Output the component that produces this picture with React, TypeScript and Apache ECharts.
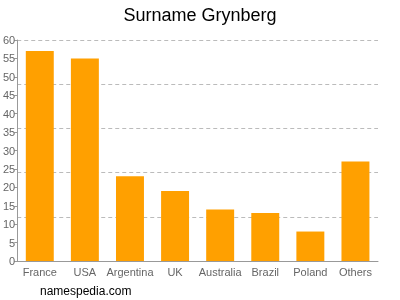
import React, { useEffect, useRef } from "react";
import * as echarts from "echarts";

const categories = ["France", "USA", "Argentina", "UK", "Australia", "Brazil", "Poland", "Others"];
const counts = [57, 55, 23, 19, 14, 13, 8, 27];
const titleText = "Surname Grynberg";
const footerText = "namespedia.com";

export default function App() {
  const ref = useRef<HTMLDivElement>(null);
  useEffect(() => {
    if (!ref.current) return;
    const chart = echarts.init(ref.current, undefined, { renderer: "svg" });
    chart.setOption({
      animation: false,
      title: {
        text: titleText,
        left: "center",
        top: 1,
        textStyle: { fontFamily: "Liberation Sans, Arial, sans-serif", fontSize: 18, fontWeight: "normal", color: "#000" },
      },
      graphic: [
        {
          type: "text",
          left: 40,
          top: 285,
          style: { text: footerText, fontFamily: "Liberation Sans, Arial, sans-serif", fontSize: 12, fill: "#000" },
        },
      ],
      grid: { left: 17, right: 22, top: 40, bottom: 39, containLabel: false },
      xAxis: {
        type: "category",
        data: categories,
        axisLine: { lineStyle: { color: "#999" } },
        axisTick: { show: false },
        axisLabel: { color: "#666", fontSize: 11, fontFamily: "Liberation Sans, Arial, sans-serif", margin: 5, interval: 0 },
      },
      yAxis: [
        {
          type: "value",
          min: 0,
          max: 60,
          interval: 5,
          axisLine: { show: true, lineStyle: { color: "#999" } },
          axisTick: { show: true, length: 3, lineStyle: { color: "#999" } },
          axisLabel: { color: "#666", fontSize: 11, fontFamily: "Liberation Sans, Arial, sans-serif", margin: 2 },
          splitLine: { show: false },
        },
        {
          type: "value",
          min: 0,
          max: 60,
          interval: 12,
          position: "left",
          axisLine: { show: false },
          axisTick: { show: false },
          axisLabel: { show: false },
          splitLine: { show: true, lineStyle: { color: "#bbb", type: [4, 3] } },
        },
      ],
      series: [
        {
          type: "bar",
          data: counts,
          barWidth: "62%",
          itemStyle: { color: "#FFA000" },
        },
      ],
    });
    return () => chart.dispose();
  }, []);
  return <div ref={ref} style={{ position: "fixed", left: 0, top: 0, width: 400, height: 300 }} />;
}
